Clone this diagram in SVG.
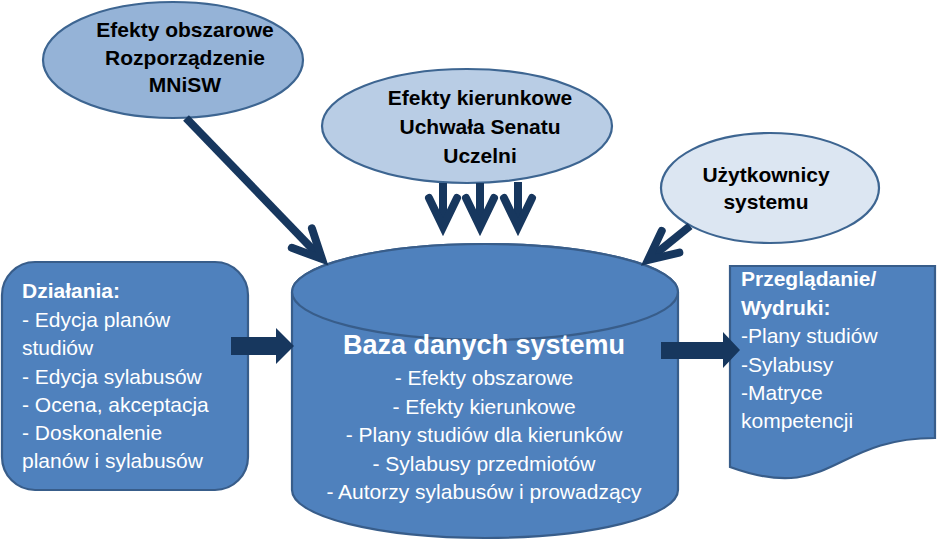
<svg xmlns="http://www.w3.org/2000/svg" width="938" height="542" viewBox="0 0 938 542">
<style>
  .ell { stroke: #3d6591; stroke-width: 2.2; }
  .blk { fill: #4f81bd; stroke: #385d8a; stroke-width: 2.2; }
  .dk { font-family: "Liberation Sans", Arial, sans-serif; font-size: 21px; font-weight: bold; fill: #000; text-anchor: middle; }
  .wt { font-family: "Liberation Sans", Arial, sans-serif; font-size: 21px; fill: #fff; }
  .wb { font-weight: bold; }
  .mid { text-anchor: middle; }
  .title { font-size: 27px; }
  .conn { stroke: #17375e; stroke-width: 8; fill: none; }
  .barrow { fill: #17375e; stroke: none; }
</style>
<defs>
  <marker id="chev" markerUnits="userSpaceOnUse" orient="auto" refX="0" refY="0" markerWidth="60" markerHeight="60" viewBox="-40 -30 60 60" overflow="visible">
    <path d="M-29,-14 L0,0 L-29,14" fill="none" stroke="#17375e" stroke-width="8" stroke-linecap="round" stroke-linejoin="miter"/>
  </marker>
</defs>
<rect width="938" height="542" fill="#fff"/>

<g id="node-efekty-obszarowe">
  <ellipse class="ell" cx="173" cy="60" rx="130" ry="58" fill="#95b3d7"/>
  <text class="dk" x="185" y="37">Efekty obszarowe</text>
  <text class="dk" x="185" y="65">Rozporządzenie</text>
  <text class="dk" x="185" y="92">MNiSW</text>
</g>

<g id="node-efekty-kierunkowe">
  <ellipse class="ell" cx="467" cy="126" rx="145" ry="57" fill="#b9cde5"/>
  <text class="dk" x="480" y="105">Efekty kierunkowe</text>
  <text class="dk" x="480" y="134">Uchwała Senatu</text>
  <text class="dk" x="480" y="163">Uczelni</text>
</g>

<g id="node-uzytkownicy">
  <ellipse class="ell" cx="770" cy="188" rx="109" ry="55" fill="#dce6f2"/>
  <text class="dk" x="766" y="182">Użytkownicy</text>
  <text class="dk" x="766" y="209">systemu</text>
</g>

<g id="node-dzialania">
  <rect class="blk" x="2" y="262" width="246" height="228" rx="33" ry="33"/>
  <text class="wt wb" x="22" y="298">Działania:</text>
  <text class="wt" x="22" y="327">- Edycja planów</text>
  <text class="wt" x="22" y="355">studiów</text>
  <text class="wt" x="22" y="384">- Edycja sylabusów</text>
  <text class="wt" x="22" y="412">- Ocena, akceptacja</text>
  <text class="wt" x="22" y="440">- Doskonalenie</text>
  <text class="wt" x="22" y="468">planów i sylabusów</text>
</g>

<g id="node-baza">
  <path class="blk" d="M292,292 A193,48 0 0 1 678,292 V490 A193,48 0 0 1 292,490 Z"/>
  <ellipse class="blk" cx="485" cy="292" rx="193" ry="48"/>
  <text class="wt wb mid title" x="484" y="354">Baza danych systemu</text>
  <text class="wt mid" x="484" y="385">- Efekty obszarowe</text>
  <text class="wt mid" x="484" y="414">- Efekty kierunkowe</text>
  <text class="wt mid" x="484" y="442">- Plany studiów dla kierunków</text>
  <text class="wt mid" x="484" y="471">- Sylabusy przedmiotów</text>
  <text class="wt mid" x="484" y="499">- Autorzy sylabusów i prowadzący</text>
</g>

<g id="node-przegladanie">
  <path class="blk" d="M730,266 H935 V438 C832,438 832,504 730,467 Z"/>
  <text class="wt wb" x="741" y="286">Przeglądanie/</text>
  <text class="wt wb" x="741" y="315">Wydruki:</text>
  <text class="wt" x="741" y="343">-Plany studiów</text>
  <text class="wt" x="741" y="372">-Sylabusy</text>
  <text class="wt" x="741" y="400">-Matryce</text>
  <text class="wt" x="741" y="428">kompetencji</text>
</g>

<g id="connectors">
  <line class="conn" x1="186" y1="118" x2="322" y2="259" marker-end="url(#chev)"/>
  <line class="conn" x1="443" y1="183" x2="443" y2="227" marker-end="url(#chev)"/>
  <line class="conn" x1="480" y1="183" x2="480" y2="227" marker-end="url(#chev)"/>
  <line class="conn" x1="518" y1="182" x2="518" y2="227" marker-end="url(#chev)"/>
  <line class="conn" x1="690" y1="226" x2="648" y2="260" marker-end="url(#chev)"/>
  <path class="barrow" d="M231,337 H276 V328 L294,346 L276,364 V355 H231 Z"/>
  <path class="barrow" d="M661,342 H723 V332 L740,350 L723,368 V359 H661 Z"/>
</g>
</svg>
